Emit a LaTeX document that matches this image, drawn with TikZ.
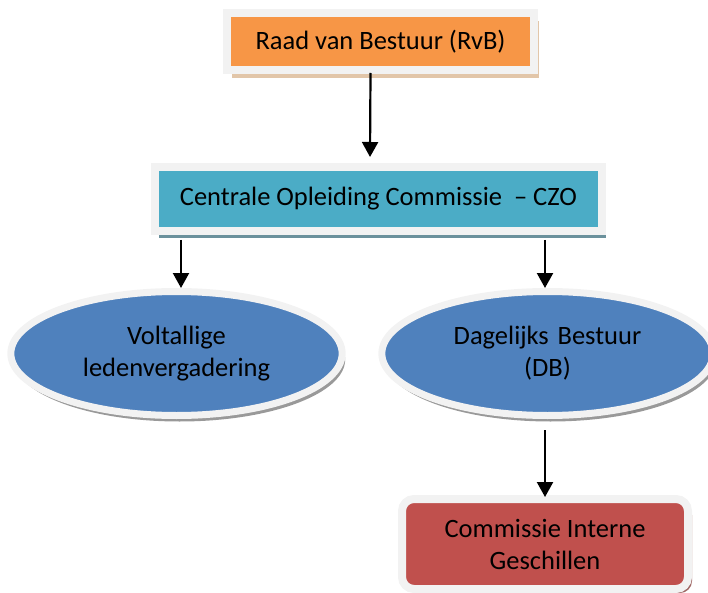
\documentclass[tikz,border=0pt]{standalone}
\usepackage{fontspec}
\setmainfont{Carlito}
\usepackage{xcolor}
\usetikzlibrary{arrows.meta,shapes,positioning,shadows,calc}

\definecolor{rvbcol}{HTML}{F79646}
\definecolor{czocol}{HTML}{4BACC6}
\definecolor{dbcol}{HTML}{4F81BD}
\definecolor{cigcol}{HTML}{C0504D}
\definecolor{rimcol}{HTML}{F2F2F2}

\begin{document}
\begin{tikzpicture}[
    x=1pt, y=-1pt,
    font=\fontsize{26.5}{32}\selectfont,
    unit/.style={rectangle, draw=rimcol, line width=8pt, align=center},
    orgbody/.style={ellipse, draw=rimcol, fill=dbcol, line width=7pt, text width=8cm, align=center,
        minimum height=124pt,
        drop shadow={shadow xshift=3pt, shadow yshift=-6pt, fill=black!40, opacity=1}},
    link/.style={-{Triangle[width=16pt,length=15pt]}, line width=2.2pt, black}
]
\useasboundingbox (0,0) rectangle (708,593);

% Top box
\node[unit, fill=rvbcol, minimum width=307pt, minimum height=57pt,
      drop shadow={shadow xshift=5pt, shadow yshift=-8pt, fill=brown!45!white, opacity=1}]
      (rvb) at (380.5,41.5) {Raad van Bestuur (RvB)};

% Central commission
\node[unit, fill=czocol, minimum width=447pt, minimum height=64pt,
      drop shadow={shadow xshift=4pt, shadow yshift=-7pt, fill=czocol!40!gray, opacity=1}]
      (czo) at (378.5,199) {Centrale Opleiding Commissie\ \ -- CZO};

% Bodies under the CZO
\node[orgbody, minimum width=330pt] (alv) at (176.5,353.5) {Voltallige\\ledenvergadering};
\node[orgbody, minimum width=322pt] (db) at (547.5,353.5) {Dagelijks Bestuur\\(DB)};

% Bottom box
\node[unit, fill=cigcol, rounded corners=12pt, minimum width=286pt, minimum height=90pt,
      drop shadow={shadow xshift=4pt, shadow yshift=-4pt, fill=cigcol!50!gray, opacity=1}]
      (cig) at (545,544) {Commissie Interne\\Geschillen};

% Arrows
\draw[link] ([xshift=-10pt,yshift=1pt]rvb.south) -- ([xshift=-8.5pt,yshift=6pt]czo.north);
\draw[link] ([yshift=-5pt]czo.south -| 181,0) -- (alv.north -| 181,0);
\draw[link] ([yshift=-5pt]czo.south -| cig.north) -- (db.north -| cig.north);
\draw[link] ([yshift=-11pt]db.south -| cig.north) -- ([yshift=-2pt]cig.north);

\end{tikzpicture}
\end{document}
